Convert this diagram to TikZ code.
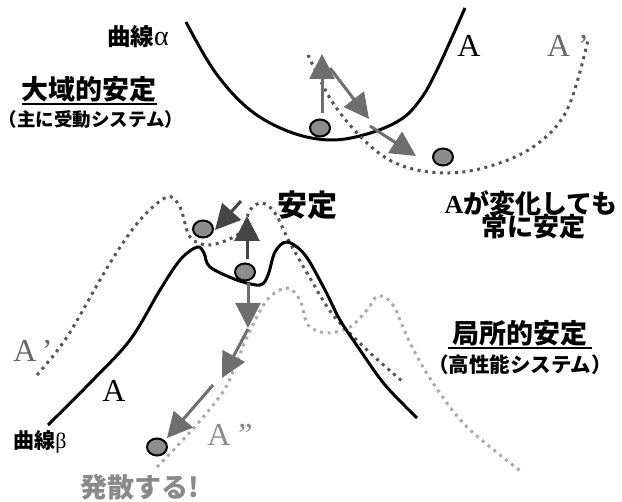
\documentclass[tikz,border=0pt]{standalone}
\usepackage{fontspec}
\newfontfamily\jp{Noto Sans CJK JP}
\newfontfamily\ser{Liberation Serif}
\usetikzlibrary{arrows.meta,shapes.geometric}
\definecolor{dotdark}{HTML}{555555}
\definecolor{dotlight}{HTML}{ABABAB}
\definecolor{arrowgray}{HTML}{6E6E6E}
\definecolor{arrowdark}{HTML}{454545}
\definecolor{ballfill}{HTML}{8C8C8C}
\definecolor{labgray}{HTML}{666666}
\definecolor{labgraylt}{HTML}{8A8A8A}
\begin{document}
\begin{tikzpicture}[x=1pt,y=-1pt,
  solidcurve/.style={line width=3pt, black},
  dotcurve/.style={line width=3pt, dash pattern=on 3pt off 4.5pt, dotdark},
  dotcurvelt/.style={line width=3pt, dash pattern=on 3pt off 4.5pt, dotlight},
  ball/.style={ellipse, draw=black, line width=2pt, fill=ballfill, minimum width=20pt, minimum height=17pt, inner sep=0pt},
  arr/.style={line width=3pt, arrowgray, -{Triangle[length=25pt,width=25pt]}},
  arrd/.style={arr, arrowdark},
  jplab/.style={font=\jp\bfseries, inner sep=0pt},
  serlab/.style={font=\ser\fontsize{32}{32}\selectfont, inner sep=0pt}
]
\useasboundingbox (0,0) rectangle (622,502);

% top curves
\draw[solidcurve] plot[smooth, tension=0.6] coordinates {(186,22) (215,72) (250,110) (290,132) (330,140) (367,134) (400,120) (420,100) (437,70) (465,8)};
\draw[dotcurve] plot[smooth, tension=0.6] coordinates {(308,55) (333,103) (367,143) (400,165) (443,173) (487,167) (533,147) (567,110) (588,40)};

% lower curves
\draw[dotcurvelt] plot[smooth, tension=0.55] coordinates {(157,467) (180,443) (205,415) (227,385) (247,337) (267,300) (287,288) (300,300) (308,325) (327,333) (350,327) (367,310) (378,296) (393,305) (410,343) (433,383) (467,427) (523,473)};
\draw[dotcurve] plot[smooth, tension=0.55] coordinates {(37,375) (67,337) (110,263) (140,220) (167,197) (180,207) (190,237) (210,245) (240,233) (250,210) (262,203) (275,213) (290,243) (310,278) (333,315) (367,350) (403,382)};
\draw[solidcurve] plot[smooth, tension=0.55] coordinates {(48,425) (90,383) (130,340) (160,290) (180,260) (197,247) (204,253) (210,267) (237,280) (260,285) (268,275) (275,252) (287,242) (305,255) (325,290) (340,320) (360,350) (385,385) (417,418)};

% balls
\node[ball] (b1) at (320,128) {};
\node[ball] (b2) at (443,157) {};
\node[ball] (b3) at (203,229) {};
\node[ball] (b4) at (245,272) {};
\node[ball] (b5) at (157,447) {};

% arrows top
\coordinate (a1s) at (322,113); \coordinate (a1e) at (322,54);
\coordinate (a2s) at (330,68);  \coordinate (a2e) at (369,119);
\coordinate (a3s) at (370,126); \coordinate (a3e) at (416,156);
\draw[arr] (a1s) -- (a1e);
\draw[arr] (a2s) -- (a2e);
\draw[arr] (a3s) -- (a3e);

% arrows lower
\coordinate (c1s) at (241,201); \coordinate (c1e) at (215,230);
\coordinate (c2s) at (247,259); \coordinate (c2e) at (247,216);
\coordinate (c3s) at (248,283); \coordinate (c3e) at (248,328);
\coordinate (c4s) at (248,329); \coordinate (c4e) at (222,378);
\coordinate (c5s) at (213,385); \coordinate (c5e) at (167,438);
\draw[arrd] (c1s) -- (c1e);
\draw[arrd] (c2s) -- (c2e);
\draw[arr] (c3s) -- (c3e);
\draw[arr] (c4s) -- (c4e);
\draw[arr] (c5s) -- (c5e);

% labels
\node[jplab, font=\jp\bfseries\fontsize{23.5}{23.5}\selectfont] (la) at (138,37) {曲線{\ser\mdseries\fontsize{28}{28}\selectfont α}};
\node[jplab, font=\jp\bfseries\fontsize{27}{27}\selectfont] (lg) at (89,89) {大域的安定};
\draw[line width=2pt] (22,104) -- (157,104);
\node[jplab, font=\jp\bfseries\fontsize{18.5}{18.5}\selectfont] (lgs) at (91,119) {（主に受動システム）};

\node[serlab] (tA) at (469,46) {A};
\node[serlab, labgray] (tAp) at (568,46) {A ’};

\node[jplab, font=\jp\bfseries\fontsize{26}{26}\selectfont] (lc1) at (531,203) {{\ser\bfseries A}が変化しても};
\node[jplab, font=\jp\bfseries\fontsize{26}{26}\selectfont] (lc2) at (533,227) {常に安定};

\node[jplab, font=\jp\bfseries\fontsize{30}{30}\selectfont] (ls) at (307,205) {安定};

\node[jplab, font=\jp\bfseries\fontsize{27}{27}\selectfont] (ll) at (520,333) {局所的安定};
\draw[line width=2pt] (448,348) -- (592,348);
\node[jplab, font=\jp\bfseries\fontsize{20.5}{20.5}\selectfont] (lls) at (520,365) {（高性能システム）};

\node[serlab, labgray] (bAp) at (33,351) {A\,’};
\node[serlab] (bA) at (114,391) {A};
\node[serlab, labgraylt] (bApp) at (230,435) {A ”};

\node[jplab, font=\jp\bfseries\fontsize{21}{21}\selectfont] (lb) at (40,442) {曲線{\ser\mdseries\fontsize{22}{22}\selectfont β}};
\node[jplab, font=\jp\bfseries\fontsize{27}{27}\selectfont, text=labgraylt] (ld) at (140,487) {発散する!};
\end{tikzpicture}
\end{document}
